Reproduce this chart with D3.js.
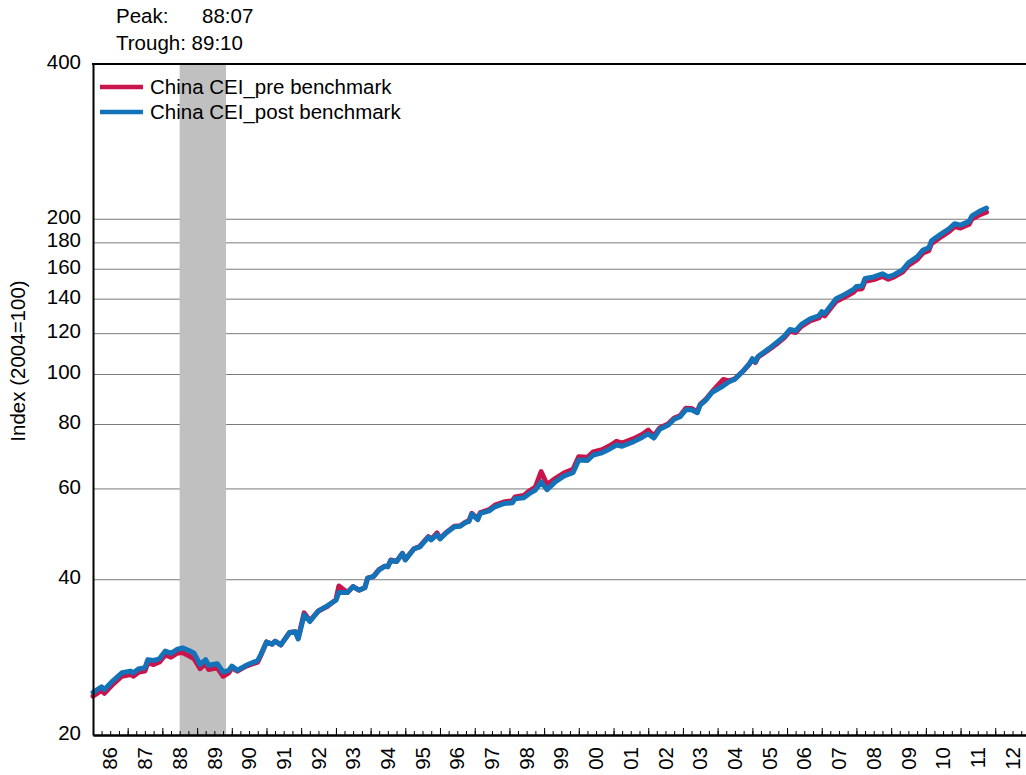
<!DOCTYPE html>
<html>
<head>
<meta charset="utf-8">
<script src="https://d3js.org/d3.v7.min.js"></script>
<style>
  body { margin: 0; background: #fff; }
  text { font-family: "Liberation Sans", Arial, sans-serif; fill: #000; }
</style>
</head>
<body>
<svg id="chart" width="1026" height="775"></svg>
<script>
const months = [
  "1986-01","1986-04","1986-05","1986-08","1986-11","1987-02","1987-03","1987-05","1987-07","1987-08",
  "1987-10","1987-12","1988-02","1988-04","1988-06","1988-08","1988-10","1988-12","1989-02","1989-04",
  "1989-05","1989-08","1989-10","1989-12","1990-01","1990-03","1990-06","1990-10","1990-11","1991-01",
  "1991-03","1991-04","1991-06","1991-09","1991-11","1991-12","1992-02","1992-04","1992-07","1992-10",
  "1993-01","1993-02","1993-05","1993-07","1993-09","1993-11","1993-12","1994-02","1994-04","1994-06",
  "1994-07","1994-08","1994-10","1994-12","1995-01","1995-04","1995-06","1995-09","1995-10","1995-12",
  "1996-01","1996-03","1996-06","1996-08","1996-10","1996-11","1996-12","1997-02","1997-03","1997-06",
  "1997-08","1997-11","1998-02","1998-03","1998-06","1998-08","1998-10","1998-12","1999-02","1999-05",
  "1999-08","1999-11","2000-01","2000-04","2000-06","2000-09","2000-12","2001-02","2001-04","2001-08",
  "2001-11","2002-01","2002-03","2002-05","2002-08","2002-10","2002-12","2003-02","2003-04","2003-06",
  "2003-07","2003-09","2003-11","2004-03","2004-05","2004-07","2004-10","2004-12","2005-01","2005-02",
  "2005-03","2005-07","2005-10","2005-12","2006-02","2006-04","2006-06","2006-09","2006-12","2007-01",
  "2007-02","2007-04","2007-06","2007-09","2007-12","2008-01","2008-03","2008-04","2008-07","2008-10",
  "2008-12","2009-02","2009-05","2009-07","2009-10","2009-12","2010-02","2010-03","2010-06","2010-09",
  "2010-11","2011-01","2011-04","2011-05","2011-08","2011-10"
];

const preBenchmark = [
  23.8,24.4,24.1,25.1,26.0,26.2,26.0,26.5,26.6,27.6,
  27.4,27.7,28.6,28.3,28.8,28.9,28.5,28.1,26.9,27.5,
  26.8,27.0,26.0,26.4,27.0,26.6,27.2,27.7,28.5,30.3,
  30.0,30.4,29.9,31.6,31.7,30.8,34.5,33.3,34.8,35.5,
  36.6,38.9,37.8,38.8,38.2,38.6,40.3,40.6,41.9,42.5,
  42.4,43.7,43.4,45.0,43.8,45.9,46.4,48.5,47.9,49.3,
  48.1,49.3,50.8,50.9,51.8,52.0,53.8,52.5,54.0,54.7,
  55.8,56.6,56.9,57.9,58.3,59.5,60.5,64.8,61.2,62.9,
  64.5,65.5,69.3,69.1,70.8,71.5,72.9,74.2,73.6,75.1,
  76.6,78.0,76.0,78.8,80.3,82.3,83.2,86.0,85.9,84.7,
  87.5,89.6,92.5,97.8,97.2,98.1,101.8,104.8,107.0,105.5,
  108.0,112.0,115.3,117.8,121.4,120.6,124.0,127.0,128.7,131.0,
  129.9,134.1,138.6,141.3,144.4,146.3,146.7,151.6,152.8,155.0,
  153.0,154.6,158.0,162.8,167.0,172.0,173.8,179.3,184.3,189.2,
  193.6,192.3,195.6,200.3,204.5,206.4
];

const postBenchmark = [
  24.2,24.8,24.5,25.5,26.4,26.6,26.4,26.9,27.0,28.0,
  27.9,28.1,29.1,28.8,29.3,29.5,29.2,28.8,27.4,28.0,
  27.3,27.5,26.5,26.7,27.2,26.7,27.3,27.9,28.6,30.3,
  30.0,30.4,29.9,31.6,31.7,30.7,34.2,33.2,34.8,35.6,
  36.5,37.8,37.8,38.8,38.2,38.6,40.3,40.6,41.8,42.5,
  42.4,43.6,43.4,45.0,43.7,45.9,46.3,48.4,47.8,48.9,
  48.0,49.2,50.7,50.8,51.7,51.9,53.6,52.3,53.8,54.4,
  55.4,56.2,56.4,57.4,57.7,58.8,59.7,61.9,59.8,62.0,
  63.6,64.5,68.3,68.1,69.8,70.5,71.9,73.0,72.6,74.1,
  75.6,76.7,75.3,78.3,79.8,81.9,82.8,85.4,85.4,84.3,
  87.2,89.3,92.2,95.1,96.8,97.9,101.8,105.0,107.3,105.8,
  108.4,112.5,116.0,118.6,122.3,121.6,125.1,128.2,130.0,132.4,
  131.3,135.6,140.3,143.0,146.2,148.1,148.5,153.6,154.6,156.8,
  154.6,156.1,159.6,164.7,169.1,174.2,176.0,181.7,186.7,191.6,
  196.1,194.8,198.1,203.0,207.8,210.3
];

const seriesNames = ["China CEI_pre benchmark", "China CEI_post benchmark"];
const seriesColors = ["#c8154c", "#1372b8"];
const yTicks = [20, 40, 60, 80, 100, 120, 140, 160, 180, 200, 400];
const gridValues = [40, 60, 80, 100, 120, 140, 160, 180, 200];
const yearLabels = ["86","87","88","89","90","91","92","93","94","95","96","97","98","99",
                    "00","01","02","03","04","05","06","07","08","09","10","11","12"];
const peakMonth = "1988-07";
const troughMonth = "1989-10";

const svg = d3.select("#chart");
const parse = d3.timeParse("%Y-%m");
const plotLeft = 93, plotRight = 1030, plotTop = 64, plotBottom = 735;
const fontSize = "20.5px";

const x = d3.scaleTime()
  .domain([new Date(1986, 0, 1), new Date(2013, 0, 1)])
  .range([plotLeft, plotRight]);
const y = d3.scaleLog().domain([20, 400]).range([plotBottom, plotTop]);

// gridlines
svg.append("g").selectAll("line")
  .data(gridValues).enter().append("line")
  .attr("x1", plotLeft).attr("x2", 1026)
  .attr("y1", d => y(d)).attr("y2", d => y(d))
  .attr("stroke", "#7a7a7a").attr("stroke-width", 1);

// recession shading
const p0 = parse(peakMonth), p1 = d3.timeMonth.offset(parse(troughMonth), 1);
svg.append("rect")
  .attr("x", x(p0)).attr("y", plotTop)
  .attr("width", x(p1) - x(p0)).attr("height", plotBottom - plotTop)
  .attr("fill", "#c0c0c0");

// lines
const line = d3.line()
  .x(d => x(d.date))
  .y(d => y(d.value));

[preBenchmark, postBenchmark].forEach((vals, i) => {
  const pts = months.map((m, j) => ({ date: parse(m), value: vals[j] }));
  svg.append("path")
    .datum(pts)
    .attr("d", line)
    .attr("fill", "none")
    .attr("stroke", seriesColors[i])
    .attr("stroke-width", 5)
    .attr("stroke-linejoin", "round")
    .attr("stroke-linecap", "round");
});

// x axis: year ticks + quarter ticks, pointing up
const xg = svg.append("g").attr("transform", `translate(0,${plotBottom})`);
xg.call(d3.axisBottom(x)
  .ticks(d3.timeMonth.every(3))
  .tickSizeInner(-4).tickSizeOuter(0).tickFormat(""));
xg.append("g").call(d3.axisBottom(x)
  .ticks(d3.timeYear.every(1))
  .tickSizeInner(-7).tickSizeOuter(0).tickFormat(""));
xg.selectAll("path").attr("stroke-width", 2).attr("stroke", "#000");
xg.selectAll("line").attr("stroke", "#000");

svg.append("g").selectAll("text")
  .data(yearLabels).enter().append("text")
  .attr("transform", (d, i) => `translate(${x(new Date(1986 + i, 6, 1))},747) rotate(-90)`)
  .attr("text-anchor", "end")
  .attr("dy", "0.35em")
  .style("font-size", fontSize)
  .text(d => d);

// y axis
const yg = svg.append("g").attr("transform", `translate(${plotLeft},0)`)
  .call(d3.axisLeft(y).tickValues(yTicks).tickSize(0).tickPadding(12).tickFormat(d3.format("d")));
yg.select("path").attr("stroke-width", 2).attr("stroke", "#000");
yg.selectAll("text").style("font-size", fontSize).attr("dy", "0.2em");

// top border
svg.append("line")
  .attr("x1", plotLeft - 1).attr("x2", 1026)
  .attr("y1", plotTop).attr("y2", plotTop)
  .attr("stroke", "#000").attr("stroke-width", 2);

svg.append("text")
  .attr("transform", "translate(25,361) rotate(-90)")
  .attr("text-anchor", "middle")
  .style("font-size", fontSize)
  .text("Index (2004=100)");

// legend
seriesNames.forEach((name, i) => {
  const ly = 87 + i * 25;
  svg.append("line")
    .attr("x1", 100).attr("x2", 143)
    .attr("y1", ly).attr("y2", ly)
    .attr("stroke", seriesColors[i]).attr("stroke-width", 4.5);
  svg.append("text")
    .attr("x", 150).attr("y", ly + 7)
    .style("font-size", fontSize)
    .text(name);
});

// peak / trough note
svg.append("text").attr("x", 116).attr("y", 23).style("font-size", fontSize).text("Peak:");
svg.append("text").attr("x", 202).attr("y", 23).style("font-size", fontSize).text("88:07");
svg.append("text").attr("x", 116).attr("y", 50).style("font-size", fontSize).text("Trough: 89:10");
</script>
</body>
</html>
